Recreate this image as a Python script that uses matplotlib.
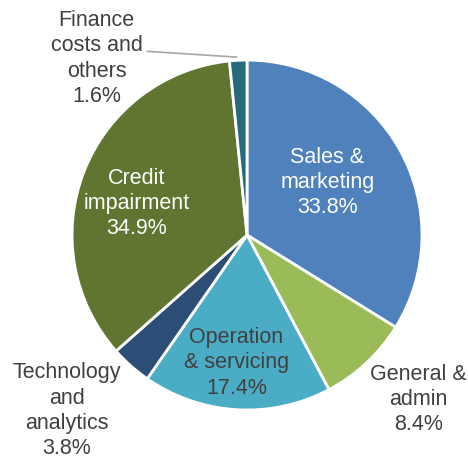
import matplotlib
matplotlib.use("Agg")
from matplotlib import pyplot as plt

plt.rcParams['font.family'] = ['Liberation Sans', 'DejaVu Sans']

# data, clockwise from 12 o'clock
labels = ['Sales &\nmarketing', 'General &\nadmin', 'Operation\n& servicing',
          'Technology\nand\nanalytics', 'Credit\nimpairment', 'Finance\ncosts and\nothers']
shares = [33.8, 8.4, 17.4, 3.8, 34.9, 1.6]
colors = ['#4F81BD', '#9BBB59', '#4BACC6', '#2C4D75', '#5F7530', '#276A7C']

# label placement (data coords) and text colour
label_pos = [(0.46, 0.30), (0.98, -0.94), (-0.06, -0.73),
             (-1.03, -1.005), (-0.63, 0.18), (-0.86, 1.01)]
label_col = ['white', '#404040', '#404040', '#404040', 'white', '#404040']

fig = plt.figure(figsize=(4.68, 4.58), dpi=100)
ax = fig.add_axes([0.1538, 0.1048, 0.748, 0.764])

ax.pie(shares, colors=colors, startangle=90, counterclock=False, radius=1,
       wedgeprops=dict(edgecolor='white', linewidth=2))

for lab, v, (x, y), c in zip(labels, shares, label_pos, label_col):
    ax.text(x, y, lab + '\n' + ('%.1f%%' % v), ha='center', va='center',
            color=c, fontsize=15.5, linespacing=1.27)

# leader line for the small slice
ax.plot([-0.57, -0.06], [1.05, 1.017], color='#A6A6A6', linewidth=1.2, clip_on=False)

ax.set_xlim(-1, 1)
ax.set_ylim(-1, 1)
ax.set_aspect('equal')
ax.axis('off')

fig.savefig('out.png', dpi=100)
